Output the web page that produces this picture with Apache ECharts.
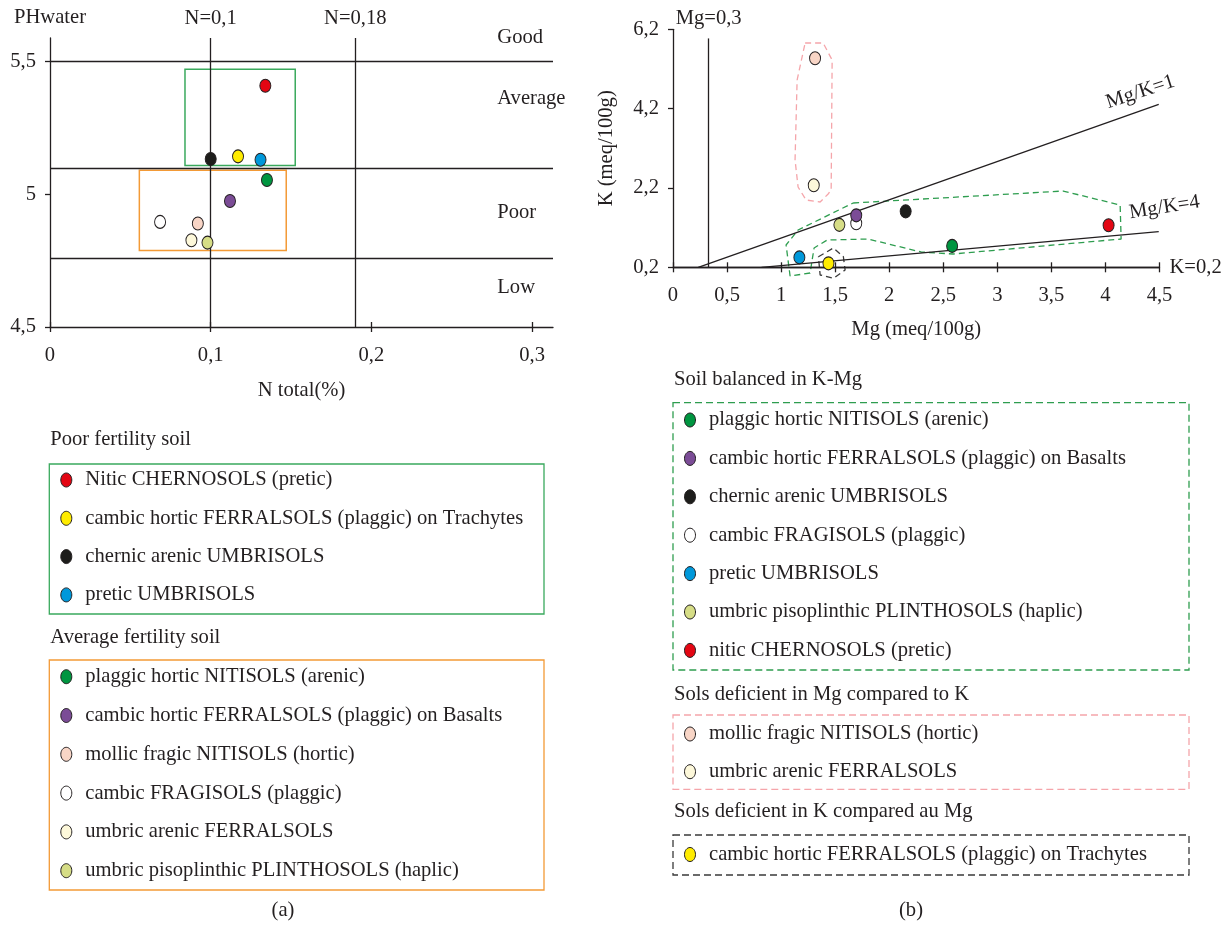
<!DOCTYPE html>
<html><head><meta charset="utf-8">
<script src="https://cdn.jsdelivr.net/npm/echarts@6/dist/echarts.min.js"></script>
<style>html,body{margin:0;padding:0;background:#fff}#c{width:1231px;height:927px}</style>
</head><body><div id="c"></div>
<script>
// ---------- soils ----------
const soilNames = ['Nitic CHERNOSOLS (pretic)', 'cambic hortic FERRALSOLS (plaggic) on Trachytes', 'chernic arenic UMBRISOLS', 'pretic UMBRISOLS', 'plaggic hortic NITISOLS (arenic)', 'cambic FRAGISOLS (plaggic)', 'cambic hortic FERRALSOLS (plaggic) on Basalts', 'mollic fragic NITISOLS (hortic)', 'umbric arenic FERRALSOLS', 'umbric pisoplinthic PLINTHOSOLS (haplic)'];
const soilColors = ['#e30613', '#ffec00', '#1d1d1b', '#0098da', '#009540', '#ffffff', '#7b4c96', '#f8d5c6', '#fdf8da', '#d6dd86'];

// ---------- chart (a) ----------
const nTotal  = [0.134, 0.117, 0.100, 0.131, 0.135, 0.0685, 0.112, 0.092, 0.088, 0.098];
const phWater = [5.409, 5.143, 5.133, 5.130, 5.054, 4.896, 4.975, 4.890, 4.827, 4.818];
const aXTicks = [0, 0.1, 0.2, 0.3];
const aYTicks = [4.5, 5, 5.5];
const nRefValues = [0.1, 0.19];
const nRefLabels = ['N=0,1', 'N=0,18'];
const phClassLines = [5.5, 5.1, 4.764];
const phClassNames = ['Good', 'Average', 'Poor', 'Low'];
const phClassLabelPh = [5.589, 5.36, 4.93, 4.647];
const phClassLabelN = 0.278;
const poorBox = [[0.084, 5.471], [0.1526, 5.109]];
const averageBox = [[0.0556, 5.091], [0.147, 4.788]];

// ---------- chart (b) ----------
const mgValues = [4.029, 1.438, 2.152, 1.169, 2.582, 1.695, 1.695, 1.314, 1.302, 1.539];
const kValues  = [1.26, 0.30, 1.61, 0.45, 0.74, 1.31, 1.51, 5.47, 2.27, 1.27];
const bXTicks = [0, 0.5, 1, 1.5, 2, 2.5, 3, 3.5, 4, 4.5];
const bYTicks = [0.2, 2.2, 4.2, 6.2];
const mgRefLine = [[0.33, 0.2], [0.33, 5.97]];
const ratio1Line = [[0.234, 0.2], [4.493, 4.31]];
const ratio4Line = [[0.819, 0.2], [4.493, 1.097]];
const kRefValue = 0.2;
const ratioLabels = ['Mg/K=1', 'Mg/K=4'];
const ratioLabelPos = [[4.006, 4.342], [4.217, 1.569]];
const ratioLabelAngle = [18, 9];
const balancedHull = [[1.666, 1.821], [3.609, 2.123], [4.136, 1.770], [4.145, 0.913], [2.591, 0.535], [2.295, 0.586], [1.804, 0.913], [1.426, 0.888], [1.305, 0.687], [1.268, 0.056], [1.083, -0.019], [1.046, 0.762], [1.157, 1.140], [1.666, 1.821]];
const mgDeficientHull = [[1.222, 5.854], [1.389, 5.854], [1.472, 5.425], [1.463, 2.149], [1.435, 2.048], [1.361, 1.846], [1.231, 1.897], [1.157, 2.224], [1.129, 2.905], [1.148, 4.921], [1.222, 5.854]];
const kDeficientHull = [[1.345, 0.467], [1.484, 0.687], [1.576, 0.467], [1.592, 0.132], [1.484, -0.077], [1.361, 0.006], [1.345, 0.467]];

// ---------- legends ----------
const legendPoorTitle = 'Poor fertility soil';
const legendPoorSoils = [0, 1, 2, 3];
const legendPoorLabels = ['Nitic CHERNOSOLS (pretic)', 'cambic hortic FERRALSOLS (plaggic) on Trachytes', 'chernic arenic UMBRISOLS', 'pretic UMBRISOLS'];
const legendAvgTitle = 'Average fertility soil';
const legendAvgSoils = [4, 6, 7, 5, 8, 9];
const legendAvgLabels = ['plaggic hortic NITISOLS (arenic)', 'cambic hortic FERRALSOLS (plaggic) on Basalts', 'mollic fragic NITISOLS (hortic)', 'cambic FRAGISOLS (plaggic)', 'umbric arenic FERRALSOLS', 'umbric pisoplinthic PLINTHOSOLS (haplic)'];
const legendBalTitle = 'Soil balanced in K-Mg';
const legendBalSoils = [4, 6, 2, 5, 3, 9, 0];
const legendBalLabels = ['plaggic hortic NITISOLS (arenic)', 'cambic hortic FERRALSOLS (plaggic) on Basalts', 'chernic arenic UMBRISOLS', 'cambic FRAGISOLS (plaggic)', 'pretic UMBRISOLS', 'umbric pisoplinthic PLINTHOSOLS (haplic)', 'nitic CHERNOSOLS (pretic)'];
const legendMgTitle = 'Sols deficient in Mg compared to K';
const legendMgSoils = [7, 8];
const legendMgLabels = ['mollic fragic NITISOLS (hortic)', 'umbric arenic FERRALSOLS'];
const legendKTitle = 'Sols deficient in K compared au Mg';
const legendKSoils = [1];
const legendKLabels = ['cambic hortic FERRALSOLS (plaggic) on Trachytes'];
const captions = ['(a)', '(b)'];

// ---------- styling ----------
const F = '"Liberation Serif", "Times New Roman", serif';
const TXT = '#231f20';
const FS = 20.6;
const ELLIPSE = 'path://M50,0A50,50,0,1,1,50,100A50,50,0,1,1,50,0Z';
const fmt = v => String(+Number(v).toFixed(3)).replace('.', ',');
const txt = {color: TXT, fontFamily: F, fontSize: FS};

function pointData(xs, ys) {
  return xs.map((x, i) => ({name: soilNames[i], value: [x, ys[i]], itemStyle: {color: soilColors[i]}}));
}
function valueAxis(grid, min, max, ticks, extra) {
  return Object.assign({
    gridIndex: grid, type: 'value', min: min, max: max,
    axisLine: {show: true, onZero: false, lineStyle: {color: TXT, width: 1.3}},
    axisTick: {show: true, length: 5, customValues: ticks, lineStyle: {color: TXT, width: 1.3}},
    axisLabel: Object.assign({customValues: ticks, formatter: fmt, margin: 14}, txt),
    splitLine: {show: false}
  }, extra || {});
}
function overlayX(grid, min, max, ticks) {
  return {
    gridIndex: grid, type: 'value', min: min, max: max, position: 'bottom',
    axisLine: {show: false}, axisLabel: {show: false}, splitLine: {show: false},
    axisTick: {show: true, inside: true, length: 5, customValues: ticks, lineStyle: {color: TXT, width: 1.3}}
  };
}
function hull(data, color, dash) {
  return {
    type: 'line', xAxisIndex: 2, yAxisIndex: 1, data: data, symbol: 'none', clip: false, silent: true, z: 3,
    lineStyle: {color: color, width: 1.3, type: dash}
  };
}

// ---------- legend graphics ----------
const graphics = [];
function legendBox(title, soils, labels, lay) {
  graphics.push({type: 'text', x: lay.x + 1, y: lay.titleY, style: {text: title, fill: TXT, font: FS + 'px ' + F, verticalAlign: 'middle', align: 'left'}});
  graphics.push({type: 'rect', shape: {x: lay.x, y: lay.boxY, width: lay.w, height: lay.h},
    style: {fill: 'none', stroke: lay.stroke, lineWidth: 1.3, lineDash: lay.dash || null}});
  labels.forEach((lab, i) => {
    const cy = lay.y0 + i * lay.step;
    graphics.push({type: 'ellipse', shape: {cx: lay.x + 17, cy: cy, rx: 5.5, ry: 7},
      style: {fill: soilColors[soils[i]], stroke: TXT, lineWidth: 1}});
    graphics.push({type: 'text', x: lay.x + 36, y: cy, style: {text: lab, fill: TXT, font: FS + 'px ' + F, verticalAlign: 'middle', align: 'left'}});
  });
}
legendBox(legendPoorTitle, legendPoorSoils, legendPoorLabels, {x: 49.3, titleY: 440, boxY: 464, w: 494.7, h: 150, y0: 480, step: 38.3, stroke: '#3aa95d'});
legendBox(legendAvgTitle, legendAvgSoils, legendAvgLabels, {x: 49.3, titleY: 638, boxY: 660, w: 494.7, h: 230, y0: 676.7, step: 38.8, stroke: '#f39a36'});
legendBox(legendBalTitle, legendBalSoils, legendBalLabels, {x: 673, titleY: 380, boxY: 402.7, w: 516, h: 267.3, y0: 420, step: 38.4, stroke: '#2e9d4f', dash: [7, 4]});
legendBox(legendMgTitle, legendMgSoils, legendMgLabels, {x: 673, titleY: 695, boxY: 715, w: 516, h: 74.3, y0: 734, step: 37.7, stroke: '#f5a5aa', dash: [7, 4]});
legendBox(legendKTitle, legendKSoils, legendKLabels, {x: 673, titleY: 811.7, boxY: 835, w: 516, h: 40, y0: 854.5, step: 38, stroke: '#3a3a3a', dash: [7, 4]});
graphics.push({type: 'text', x: 283, y: 911, style: {text: captions[0], fill: TXT, font: FS + 'px ' + F, verticalAlign: 'middle', align: 'center'}});
graphics.push({type: 'text', x: 911, y: 911, style: {text: captions[1], fill: TXT, font: FS + 'px ' + F, verticalAlign: 'middle', align: 'center'}});

const refLine = {color: TXT, width: 1.3, type: 'solid'};

const option = {
  animation: false,
  backgroundColor: '#fff',
  grid: [
    {left: 50, top: 38, width: 503, height: 289},
    {left: 673, top: 29.3, width: 486.5, height: 238}
  ],
  xAxis: [
    valueAxis(0, 0, 0.313, aXTicks, {position: 'bottom', name: 'N total(%)', nameLocation: 'middle', nameGap: 53, nameTextStyle: txt}),
    overlayX(0, 0, 0.313, aXTicks),
    valueAxis(1, 0, 4.5, bXTicks, {position: 'bottom', name: 'Mg (meq/100g)', nameLocation: 'middle', nameGap: 52, nameTextStyle: txt}),
    overlayX(1, 0, 4.5, bXTicks)
  ],
  yAxis: [
    valueAxis(0, 4.5, 5.589, aYTicks, {name: 'PHwater', nameLocation: 'end', nameGap: 10, nameTextStyle: Object.assign({align: 'center'}, txt)}),
    valueAxis(1, 0.2, 6.2, bYTicks, {name: 'K (meq/100g)', nameLocation: 'middle', nameGap: 56, nameTextStyle: txt})
  ],
  series: [
    {
      type: 'scatter', xAxisIndex: 0, yAxisIndex: 0, z: 10,
      symbol: ELLIPSE, symbolSize: [11, 13],
      itemStyle: {borderColor: TXT, borderWidth: 1, opacity: 1},
      data: pointData(nTotal, phWater),
      markLine: {
        silent: true, symbol: 'none', lineStyle: refLine,
        label: Object.assign({show: true, position: 'end', distance: 9, formatter: '{b}'}, txt),
        data: nRefValues.map((v, i) => ({xAxis: v, name: nRefLabels[i]}))
          .concat(phClassLines.map(v => ({yAxis: v, label: {show: false}})))
      },
      markArea: {
        silent: true,
        data: [
          [{coord: poorBox[0], itemStyle: {color: 'rgba(0,0,0,0)', borderColor: '#3aa95d', borderWidth: 1.5}}, {coord: poorBox[1]}],
          [{coord: averageBox[0], itemStyle: {color: 'rgba(0,0,0,0)', borderColor: '#f39a36', borderWidth: 1.5}}, {coord: averageBox[1]}]
        ]
      }
    },
    {
      type: 'scatter', xAxisIndex: 0, yAxisIndex: 0, z: 4, silent: true, clip: false,
      symbolSize: 1, itemStyle: {color: 'rgba(0,0,0,0)', opacity: 1},
      label: Object.assign({show: true, position: 'right', distance: 0, formatter: '{b}', opacity: 1}, txt),
      data: phClassNames.map((n, i) => ({name: n, value: [phClassLabelN, phClassLabelPh[i]]}))
    },
    hull(balancedHull, '#2e9d4f', [6, 4]),
    hull(mgDeficientHull, '#f5a5aa', [6, 4]),
    hull(kDeficientHull, '#3a3a3a', [6, 4]),
    {
      type: 'scatter', xAxisIndex: 2, yAxisIndex: 1, z: 10,
      symbol: ELLIPSE, symbolSize: [11, 13],
      itemStyle: {borderColor: TXT, borderWidth: 1, opacity: 1},
      data: pointData(mgValues, kValues),
      markLine: {
        silent: true, symbol: 'none', lineStyle: refLine,
        label: Object.assign({show: true, formatter: '{b}'}, txt),
        data: [
          [{coord: mgRefLine[0], name: 'Mg=0,3', label: {position: 'end', distance: 9}}, {coord: mgRefLine[1]}],
          [{coord: ratio1Line[0], name: '', label: {show: false}}, {coord: ratio1Line[1]}],
          [{coord: ratio4Line[0], name: '', label: {show: false}}, {coord: ratio4Line[1]}],
          {yAxis: kRefValue, name: 'K=0,2', label: {position: 'end', distance: 10}}
        ]
      }
    },
    {
      type: 'scatter', xAxisIndex: 2, yAxisIndex: 1, z: 4, silent: true, clip: false,
      symbolSize: 1, itemStyle: {color: 'rgba(0,0,0,0)', opacity: 1},
      label: Object.assign({show: true, position: 'right', distance: 0, formatter: '{b}', opacity: 1}, txt),
      data: ratioLabels.map((n, i) => ({name: n, value: ratioLabelPos[i], label: {rotate: ratioLabelAngle[i]}}))
    }
  ],
  graphic: {elements: graphics}
};
option.xAxis[0].axisLabel.margin = 18;
option.xAxis[2].axisLabel.margin = 18;
const chart = echarts.init(document.getElementById('c'), null, {renderer: 'canvas'});
chart.setOption(option);
</script>
</body></html>
